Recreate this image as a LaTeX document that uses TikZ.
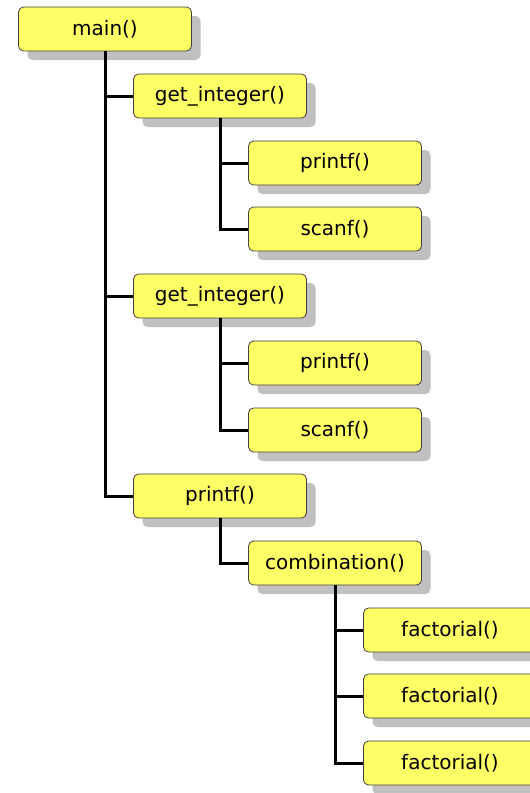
\documentclass[tikz,border=0pt]{standalone}
\usepackage{fontspec}
\setmainfont{DejaVu Sans}
\usetikzlibrary{shadows}
\definecolor{boxfill}{HTML}{FFFF66}
\definecolor{boxline}{HTML}{404040}
\definecolor{shadowgray}{HTML}{C0C0C0}
\tikzset{
  fn/.style={draw=boxline, line width=0.8pt, fill=boxfill, rounded corners=5pt,
    minimum width=173pt, minimum height=44pt, inner sep=0pt,
    font=\fontsize{20}{23}\selectfont,
    drop shadow={shadow xshift=9pt, shadow yshift=-9pt, fill=shadowgray, opacity=1}},
  conn/.style={line width=3pt, black}
}
\begin{document}
\begin{tikzpicture}[x=1pt,y=-1pt]
\useasboundingbox (0,0) rectangle (530,793);
\node[fn] (main) at (105,29) {main()};
\node[fn] (gi1) at (220,96) {get\_integer()};
\node[fn] (pf1) at (335,163) {printf()};
\node[fn] (sc1) at (335,229) {scanf()};
\node[fn] (gi2) at (220,296) {get\_integer()};
\node[fn] (pf2) at (335,363) {printf()};
\node[fn] (sc2) at (335,430) {scanf()};
\node[fn] (pf3) at (220,496) {printf()};
\node[fn] (comb) at (335,563) {combination()};
\node[fn] (fa1) at (450,630) {factorial()};
\node[fn] (fa2) at (450,696) {factorial()};
\node[fn] (fa3) at (450,763) {factorial()};
\draw[conn] (main.south) |- (gi1.west);
\draw[conn] (main.south) |- (gi2.west);
\draw[conn] (main.south) |- (pf3.west);
\draw[conn] (gi1.south) |- (pf1.west);
\draw[conn] (gi1.south) |- (sc1.west);
\draw[conn] (gi2.south) |- (pf2.west);
\draw[conn] (gi2.south) |- (sc2.west);
\draw[conn] (pf3.south) |- (comb.west);
\draw[conn] (comb.south) |- (fa1.west);
\draw[conn] (comb.south) |- (fa2.west);
\draw[conn] (comb.south) |- (fa3.west);
\end{tikzpicture}
\end{document}
